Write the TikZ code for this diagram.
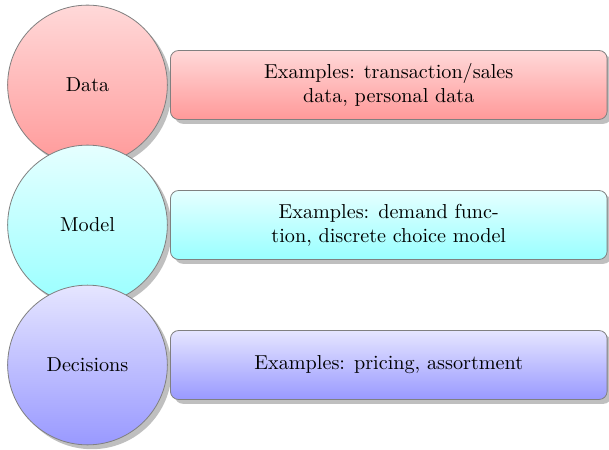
\documentclass[tikz,border=0pt]{standalone}
\usepackage{tikz}
\usepackage{xcolor}
\usetikzlibrary{positioning, shadows}

\begin{document}
\begin{tikzpicture}[
  every node/.style={font=\normalsize},
  stage/.style={circle, minimum size=2.78cm, draw=gray, drop shadow, align=center},
  descr/.style={rectangle, rounded corners=4pt, minimum width=7.6cm, minimum height=1.2cm, draw=gray, drop shadow, align=center},
]
\useasboundingbox (0,0) rectangle (10.6,7.815);

% Stages
\node[stage, top color=red!15, bottom color=red!40] (data) at (1.523, 6.336) {Data};
\node[descr, top color=red!15, bottom color=red!40, right=0.04cm of data] (datadesc) {Examples: transaction/sales\\data, personal data};

\node[stage, top color=cyan!10, bottom color=cyan!40] (model) at (1.523, 3.899) {Model};
\node[descr, top color=cyan!10, bottom color=cyan!40, right=0.04cm of model] (modeldesc) {Examples: demand func-\\tion, discrete choice model};

\node[stage, top color=blue!10, bottom color=blue!40] (dec) at (1.523, 1.462) {Decisions};
\node[descr, top color=blue!10, bottom color=blue!40, right=0.04cm of dec] (decdesc) {Examples: pricing, assortment};

\end{tikzpicture}
\end{document}
